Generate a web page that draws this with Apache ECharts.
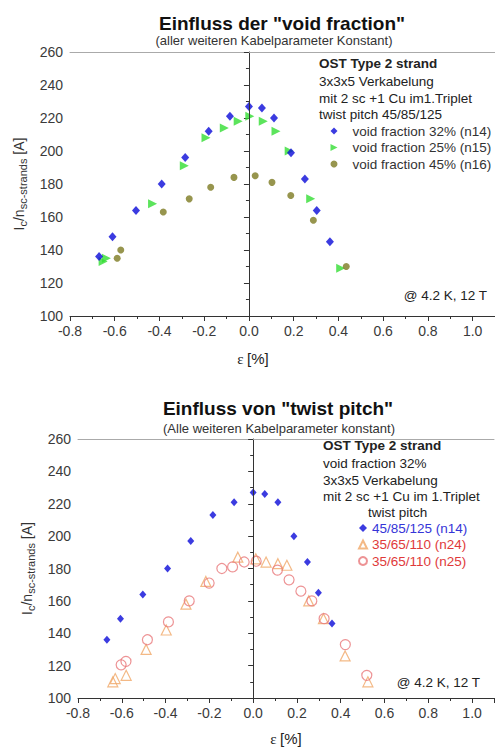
<!DOCTYPE html>
<html><head><meta charset="utf-8">
<script src="https://cdn.jsdelivr.net/npm/echarts@6/dist/echarts.min.js"></script>
<style>html,body{margin:0;padding:0;background:#fff}#c{width:495px;height:747px}</style>
</head><body><div id="c"></div>
<script>
// ---- axis settings ----
const xMin = -0.8, xMax = 1.1, xInterval = 0.2;
const yMin = 100, yMax = 260, yInterval = 20;
const zeroLine = [100, 241];

// ---- top chart: void fraction ----
const n14x = [-0.67,-0.61,-0.505,-0.39,-0.285,-0.18,-0.085,0.0,0.058,0.112,0.188,0.25,0.303,0.362];
const n14y = [136,148,164,180,196,212,221,227,226,220,199,183,164,145];
const n15x = [-0.652,-0.637,-0.431,-0.289,-0.192,-0.11,-0.048,0.004,0.064,0.121,0.18,0.276,0.41];
const n15y = [133,135,168,191,208,214,218,221,218,212,200,171,129];
const n16x = [-0.589,-0.573,-0.383,-0.267,-0.171,-0.067,0.028,0.103,0.187,0.288,0.435];
const n16y = [135,140,163,171,178,184,185,181,173,158,130];

// ---- bottom chart: twist pitch ----
const b14x = [-0.668,-0.606,-0.504,-0.391,-0.285,-0.184,-0.087,0,0.053,0.113,0.186,0.248,0.298,0.36];
const b14y = [136,149,164,180,197,213,221,227,226,221,200,184,165,146];
const b24x = [-0.641,-0.63,-0.58,-0.489,-0.397,-0.307,-0.216,-0.07,0.012,0.059,0.113,0.154,0.254,0.321,0.42,0.524];
const b24y = [110,112,114,130,142,158,172,187,186,184,183,182,160,149,126,110];
const b25x = [-0.603,-0.581,-0.483,-0.387,-0.292,-0.201,-0.143,-0.094,-0.041,0.014,0.111,0.164,0.218,0.268,0.324,0.421,0.519];
const b25y = [120.5,122.6,136,147,160,171,180,181,184,184.5,179,173,166,160,149,133,114];

const topNames = ['void fraction 32% (n14)','void fraction 25% (n15)','void fraction 45% (n16)'];
const botNames = ['45/85/125 (n14)','35/65/110 (n24)','35/65/110 (n25)'];

const FF = '"Liberation Sans", Arial, sans-serif';
const zip = (a,b) => a.map((v,i)=>[v,b[i]]);
const fmtX = v => (Math.abs(v)<1e-9 ? 0 : v).toFixed(1);

function xAxisMain(grid, padRight, gap){
  return {gridIndex:grid, type:'value', min:xMin, max:xMax, interval:xInterval,
    axisLine:{onZero:false, lineStyle:{color:'#333'}},
    axisTick:{length:5, lineStyle:{color:'#333'}},
    minorTick:{show:true, splitNumber:2, length:3, lineStyle:{color:'#333'}},
    splitLine:{show:false},
    axisLabel:{showMaxLabel:false, formatter:fmtX, fontSize:14, color:'#3a3a3a', margin:8, fontFamily:FF},
    name:'{e|ε} {m|[%]}', nameLocation:'middle', nameGap:gap,
    nameTextStyle:{padding:[0,padRight,0,0], rich:{e:{fontFamily:'"Liberation Serif", serif', fontSize:15, color:'#222'}, m:{fontFamily:FF, fontSize:15, color:'#222'}}}
  };
}
function xAxisTop(grid){
  return {gridIndex:grid, type:'value', position:'top', min:xMin, max:xMax,
    axisLine:{show:true, onZero:false, lineStyle:{color:'#aaa'}}, axisTick:{show:false}, axisLabel:{show:false}, splitLine:{show:false}};
}
function yAxisMain(grid, gap){
  return {gridIndex:grid, type:'value', min:yMin, max:yMax, interval:yInterval,
    axisLine:{show:true, lineStyle:{color:'#333'}},
    axisTick:{show:true, length:5, lineStyle:{color:'#333'}},
    minorTick:{show:true, splitNumber:2, length:3, lineStyle:{color:'#333'}},
    splitLine:{show:false},
    axisLabel:{fontSize:14, color:'#3a3a3a', margin:7, fontFamily:FF},
    name:'{m|I}{s|c}{m|/n}{s|sc-strands}{m| [A]}', nameLocation:'middle', nameRotate:90, nameGap:gap,
    nameTextStyle:{rich:{
      m:{fontSize:14, color:'#333', fontFamily:FF, verticalAlign:'top', lineHeight:18},
      s:{fontSize:11, color:'#333', fontFamily:FF, verticalAlign:'top', padding:[6,0,0,0], lineHeight:12}
    }}
  };
}
const vline = {silent:true, symbol:['none','none'], label:{show:false}, emphasis:{disabled:true},
  lineStyle:{color:'#333', width:1, type:'solid'},
  data:[[{coord:[0,zeroLine[0]]},{coord:[0,zeroLine[1]]}]]};

function txt(x,y,t,opt){
  opt = opt||{};
  return {type:'text', x:x, y:y, silent:true, style:{text:t, fill:opt.fill||'#222',
    font:(opt.bold?'bold ':'')+(opt.size||13.5)+'px '+FF, align:opt.align||'left', verticalAlign:'middle'}};
}

const chart = echarts.init(document.getElementById('c'), null, {renderer:'svg'});
chart.setOption({
  animation:false,
  backgroundColor:'#fff',
  grid:[
    {left:70, top:52, width:425, height:264},
    {left:78, top:439, width:416, height:260}
  ],
  xAxis:[xAxisMain(0,59,35), xAxisTop(0), xAxisMain(1,0,33), xAxisTop(1)],
  yAxis:[yAxisMain(0,34), yAxisMain(1,37)],
  legend:[
    {left:330.5, top:124, orient:'vertical', padding:0, itemGap:2.5, itemWidth:7, itemHeight:7, selectedMode:false,
     data:[
       {name:topNames[0]},
       {name:topNames[1], icon:'path://M0,0 L10,5 L0,10 Z'},
       {name:topNames[2]}
     ],
     textStyle:{fontSize:13.5, color:'#333', fontFamily:FF, lineHeight:14, padding:[0,0,0,10]}},
    {left:358, top:521, orient:'vertical', padding:0, itemGap:2.5, itemWidth:8, itemHeight:8, selectedMode:false,
     data:[
       {name:botNames[0], textStyle:{color:'#3535d8'}},
       {name:botNames[1], textStyle:{color:'#e03a3a'}},
       {name:botNames[2], textStyle:{color:'#e03a3a'}}
     ],
     textStyle:{fontSize:13.5, fontFamily:FF, lineHeight:14}}
  ],
  series:[
    {name:topNames[0], type:'scatter', xAxisIndex:0, yAxisIndex:0, symbol:'diamond', symbolSize:[8,9],
     itemStyle:{color:'#0a0ad8'}, emphasis:{disabled:true}, data:zip(n14x,n14y), markLine:vline, z:3},
    {name:topNames[1], type:'scatter', xAxisIndex:0, yAxisIndex:0, symbol:'path://M0,0 L10,5 L0,10 Z', symbolSize:9,
     itemStyle:{color:'#33dd33'}, emphasis:{disabled:true}, data:zip(n15x,n15y), z:2},
    {name:topNames[2], type:'scatter', xAxisIndex:0, yAxisIndex:0, symbol:'circle', symbolSize:7,
     itemStyle:{color:'#7d7a22'}, emphasis:{disabled:true}, data:zip(n16x,n16y), z:2},

    {name:botNames[0], type:'scatter', xAxisIndex:2, yAxisIndex:1, symbol:'diamond', symbolSize:[7,8],
     itemStyle:{color:'#0a0ad8'}, emphasis:{disabled:true}, data:zip(b14x,b14y), markLine:vline, z:3},
    {name:botNames[1], type:'scatter', xAxisIndex:2, yAxisIndex:1, symbol:'triangle', symbolSize:10,
     itemStyle:{color:'rgba(255,255,255,0)', borderColor:'#f0a868', borderWidth:1.2}, emphasis:{disabled:true}, data:zip(b24x,b24y), z:2},
    {name:botNames[2], type:'scatter', xAxisIndex:2, yAxisIndex:1, symbol:'circle', symbolSize:10,
     itemStyle:{color:'rgba(255,255,255,0)', borderColor:'#e8787a', borderWidth:1.2}, emphasis:{disabled:true}, data:zip(b25x,b25y), z:2}
  ],
  graphic:[
    txt(282,23,'Einfluss der "void fraction"',{bold:true,size:19,align:'center',fill:'#111'}),
    txt(274,40,'(aller weiteren Kabelparameter Konstant)',{size:13,align:'center',fill:'#333'}),
    txt(319,63,'OST Type 2 strand',{bold:true}),
    txt(319,81,'3x3x5 Verkabelung'),
    txt(319,98,'mit 2 sc +1 Cu im1.Triplet'),
    txt(319,114,'twist pitch 45/85/125'),
    txt(487,295,'@ 4.2 K, 12 T',{align:'right'}),

    txt(278,408,'Einfluss von "twist pitch"',{bold:true,size:19,align:'center',fill:'#111'}),
    txt(279,428,'(Alle weiteren Kabelparameter konstant)',{size:13,align:'center',fill:'#333'}),
    txt(323,445,'OST Type 2 strand',{bold:true}),
    txt(323,463,'void fraction 32%'),
    txt(323,480,'3x3x5 Verkabelung'),
    txt(323,496,'mit 2 sc +1 Cu im 1.Triplet'),
    txt(368,512,'twist pitch'),
    txt(480,682,'@ 4.2 K, 12 T',{align:'right'})
  ]
});
</script></body></html>
